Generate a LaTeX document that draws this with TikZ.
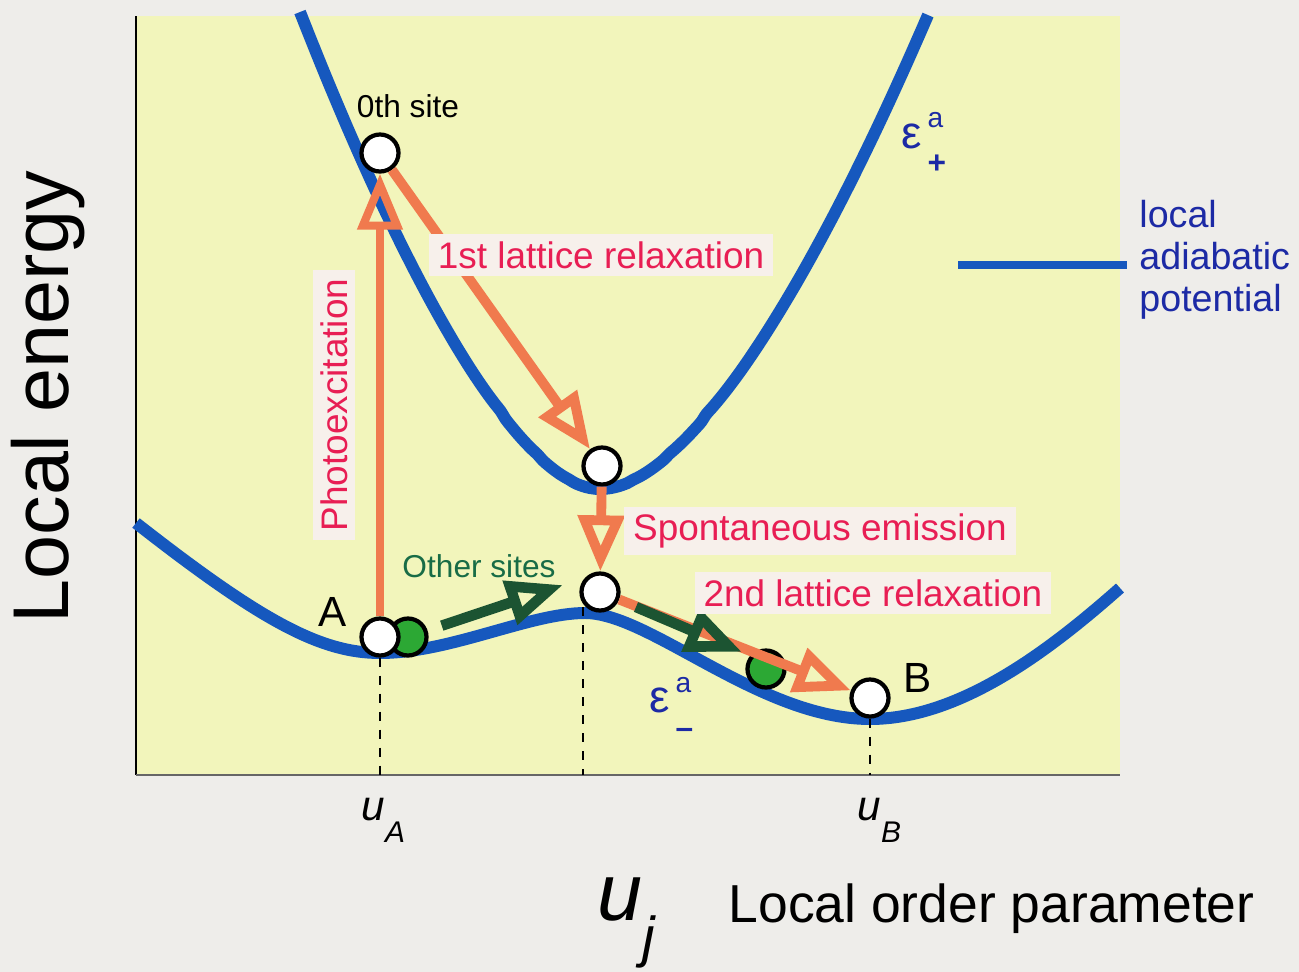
\documentclass[tikz,border=0pt]{standalone}
\usepackage{fontspec}
\setmainfont{Liberation Sans}
\usetikzlibrary{arrows.meta}
\definecolor{pagegray}{RGB}{238,237,234}
\definecolor{plotyellow}{RGB}{242,245,187}
\definecolor{curveblue}{RGB}{22,88,190}
\definecolor{legendblue}{RGB}{28,42,165}
\definecolor{relaxorange}{RGB}{240,122,78}
\definecolor{labelred}{RGB}{232,30,84}
\definecolor{labelback}{RGB}{247,240,235}
\definecolor{hopgreen}{RGB}{28,84,50}
\definecolor{textgreen}{RGB}{24,108,70}
\definecolor{dotgreen}{RGB}{44,168,52}

\begin{document}
\begin{tikzpicture}[x=0.01cm, y=-0.01cm,
    site/.style={circle, draw, line width=1.2pt, fill=white, minimum size=3.7mm, inner sep=0pt},
    othersite/.style={site, fill=dotgreen},
    potential/.style={draw=curveblue, line width=3.4pt},
    guide/.style={line width=0.6pt, dash pattern=on 0.9mm off 0.9mm},
    excite/.style={draw=relaxorange, line width=2.3pt, -{Triangle[open, length=5.6mm, width=4.4mm]}},
    relax/.style={draw=relaxorange, line width=2.8pt, -{Triangle[open, length=5.6mm, width=4.5mm]}},
    hop/.style={draw=hopgreen, line width=3pt, -{Triangle[open, length=5.6mm, width=4.4mm]}},
    process/.style={fill=labelback, text=labelred, inner xsep=2.5pt, inner ysep=2pt, font=\fontsize{10.5}{12}\selectfont},
    potname/.style={text=legendblue, inner sep=0pt},
    potindex/.style={potname, anchor=north west, align=left, font=\fontsize{8}{13}\selectfont}]
    \useasboundingbox (0,0) rectangle (1299,972);
    \fill[pagegray] (0,0) rectangle (1299,972);
    \fill[plotyellow] (136,16) rectangle (1120,775);
    \draw[line width=0.5pt] (136,16) -- (136,775);
    \draw[line width=0.6pt, black!60] (136,775) -- (1120,775);

    % adiabatic potentials
    \draw[potential] plot[domain=300:928, samples=120, smooth] (\x, {489 - (\x<600 ?
        477/0.9656*(pow(((600-\x)/300)^2+0.0225,0.78)-0.0519) :
        474/0.9656*(pow(((\x-600)/328)^2+0.0225,0.78)-0.0519))});
    \draw[potential] (136,523) .. controls (260,620) and (320,653) .. (380,653)
        .. controls (450,653) and (530,613) .. (585,613)
        .. controls (650,613) and (760,719) .. (870,719)
        .. controls (960,719) and (1050,650) .. (1120,588);

    \node[site] (site0) at (380,153) {};
    \node[site] (upmin) at (602,466) {};
    \node[site] (topmid) at (600,592) {};
    \node[othersite] (greenA) at (408,637) {};
    \node[site] (siteA) at (380,637) {};
    \node[othersite] (greenB) at (766,669) {};
    \node[site] (siteB) at (870,698) {};

    \coordinate (axA) at (380,775);
    \coordinate (barrier) at (583,607);
    \coordinate (axM) at (583,775);
    \coordinate (axB) at (870,775);
    \draw[guide] (siteA) -- (axA);
    \draw[guide] (barrier) -- (axM);
    \draw[guide] (siteB) -- (axB);

    \draw[excite] (siteA) -- (site0);
    \draw[relax] (site0) -- (upmin);
    \draw[relax] (upmin) -- (topmid);
    \draw[relax] (topmid) -- (siteB);
    \coordinate (hopend) at (563,585);
    \coordinate (hopstart) at (636,607);
    \coordinate (hopend2) at (742,652);
    \draw[hop, shorten <=1.5mm] (greenA) -- (hopend);
    \draw[hop] (hopstart) -- (hopend2);

    \node[process] (rel1) at (601,255) {1st lattice relaxation};
    \node[process] (spont) at (820,531) {Spontaneous emission};
    \node[process] (rel2) at (873,593) {2nd lattice relaxation};
    \node[process, rotate=90] (photo) at (334,405) {Photoexcitation};

    \node[font=\fontsize{9}{10}\selectfont] (zeroth) at (408,106) {0th site};
    \node[font=\fontsize{9}{10}\selectfont, text=textgreen] (others) at (479,566) {Other sites};
    \node[font=\fontsize{12}{12}\selectfont] (labA) at (333,612) {A};
    \node[font=\fontsize{12}{12}\selectfont] (labB) at (918,678) {B};

    % potential names
    \node[potname, anchor=base, font=\fontsize{13}{13}\selectfont] (epsplus) at (912,148) {ε};
    \node[potindex] (epsplusidx) at (927,112) {a\\{\bfseries\fontsize{9}{13}\selectfont +}};
    \node[potname, anchor=base, font=\fontsize{13}{13}\selectfont] (epsminus) at (660,712) {ε};
    \node[potindex] (epsminusidx) at (675,677) {a\\{\bfseries\fontsize{9}{13}\selectfont –}};

    % legend
    \node[anchor=west, text=legendblue, align=left, font=\fontsize{10.7}{12}\selectfont] (legend) at (1127,260) {local\\adiabatic\\potential};
    \coordinate (legstart) at (958,265);
    \draw[curveblue, line width=2.3pt] (legstart) -- (legstart -| legend.west);

    % axes labels
    \node[rotate=90, font=\fontsize{22.5}{24}\selectfont] (energy) at (48,397) {Local energy};
    \node[anchor=base west, inner sep=0pt, font=\fontsize{15.2}{16}\selectfont] (order) at (728,922) {Local order parameter};
    \node[anchor=base west, inner sep=0pt] (uj) at (597,920) {{\fontsize{23}{23}\selectfont\itshape u}\raisebox{-3.6mm}{\fontsize{16}{16}\selectfont\itshape j}};
    \node[anchor=base west, inner sep=0pt] (uA) at (361,820) {{\fontsize{12}{12}\selectfont\itshape u}\raisebox{-2.2mm}{\fontsize{8.5}{8.5}\selectfont\itshape A}};
    \node[anchor=base west, inner sep=0pt] (uB) at (857,820) {{\fontsize{12}{12}\selectfont\itshape u}\raisebox{-2.2mm}{\fontsize{8.5}{8.5}\selectfont\itshape B}};
\end{tikzpicture}
\end{document}
